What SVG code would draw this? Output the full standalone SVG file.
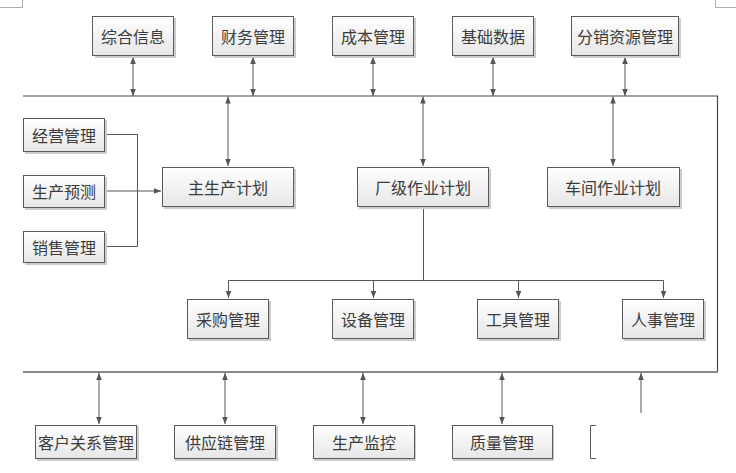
<svg xmlns="http://www.w3.org/2000/svg" width="736" height="473" viewBox="0 0 736 473">
<defs>
<linearGradient id="g" x1="0" y1="0" x2="0" y2="1">
<stop offset="0" stop-color="#ffffff"/>
<stop offset="1" stop-color="#e6e6e6"/>
</linearGradient>
<marker id="ah" viewBox="0 0 8 8" refX="8" refY="4" markerWidth="7" markerHeight="7" markerUnits="userSpaceOnUse" orient="auto-start-reverse">
<path d="M0,0.8 L8,4 L0,7.2 Z" fill="#555"/>
</marker>
<style>
.box{fill:url(#g);stroke:#5a5a5a;stroke-width:1}
.sh{fill:#cccccc}
.t{font-family:"Noto Sans CJK SC","Liberation Sans",sans-serif;font-size:16px;fill:#3c3c3c;text-anchor:middle;dominant-baseline:central}
.c{stroke:#555;stroke-width:1;fill:none}
.cd{stroke:#555;stroke-width:1;fill:none;marker-start:url(#ah);marker-end:url(#ah)}
.ce{stroke:#555;stroke-width:1;fill:none;marker-end:url(#ah)}
.mark{stroke:#b0b0b0;stroke-width:1;fill:none}
</style>
</defs>
<rect width="736" height="473" fill="#ffffff"/>
<path class="mark" d="M0,7.5 H22.5 V0 M736,7.5 H715.5 V0"/>

<g id="connectors">
<path d="M23,96 H717.5 V372" stroke="#444" stroke-width="1.2" fill="none"/>
<path d="M23,372 H718" stroke="#888" stroke-width="2" fill="none"/>
<line class="cd" x1="133" y1="57" x2="133" y2="96"/>
<line class="cd" x1="253" y1="57" x2="253" y2="96"/>
<line class="cd" x1="373" y1="57" x2="373" y2="96"/>
<line class="cd" x1="493" y1="57" x2="493" y2="96"/>
<line class="cd" x1="625" y1="57" x2="625" y2="96"/>
<line class="cd" x1="228" y1="96.5" x2="228" y2="166"/>
<line class="cd" x1="423" y1="96.5" x2="423" y2="166"/>
<line class="cd" x1="613" y1="96.5" x2="613" y2="166"/>
<path class="c" d="M105,134.5 H137.5 V246.5 H105"/>
<line class="ce" x1="105" y1="191" x2="161" y2="191"/>
<path class="c" d="M423.5,207 V280.5"/>
<path class="c" d="M228.5,280.5 H663.5"/>
<line class="ce" x1="228.5" y1="280.5" x2="228.5" y2="298"/>
<line class="ce" x1="373.5" y1="280.5" x2="373.5" y2="298"/>
<line class="ce" x1="518.5" y1="280.5" x2="518.5" y2="298"/>
<line class="ce" x1="663.5" y1="280.5" x2="663.5" y2="298"/>
<line class="cd" x1="99" y1="373" x2="99" y2="424"/>
<line class="cd" x1="225" y1="373" x2="225" y2="424"/>
<line class="cd" x1="363" y1="373" x2="363" y2="424"/>
<line class="cd" x1="502" y1="373" x2="502" y2="424"/>
<line class="ce" x1="641" y1="413" x2="641" y2="373"/>
</g>

<g id="n-zhxx"><rect class="sh" x="95" y="18" width="81" height="40"/><rect class="box" x="92.5" y="16.5" width="81" height="39"/><text class="t" x="133" y="36">综合信息</text></g>
<g id="n-cwgl"><rect class="sh" x="214" y="18" width="82" height="40"/><rect class="box" x="212.5" y="16.5" width="81" height="39"/><text class="t" x="253" y="36">财务管理</text></g>
<g id="n-cbgl"><rect class="sh" x="334" y="18" width="82" height="40"/><rect class="box" x="332.5" y="16.5" width="81" height="39"/><text class="t" x="373" y="36">成本管理</text></g>
<g id="n-jcsj"><rect class="sh" x="454" y="18" width="82" height="40"/><rect class="box" x="452.5" y="16.5" width="81" height="39"/><text class="t" x="493" y="36">基础数据</text></g>
<g id="n-fxzy"><rect class="sh" x="573" y="18" width="108" height="40"/><rect class="box" x="571.5" y="16.5" width="107" height="39"/><text class="t" x="625" y="36">分销资源管理</text></g>

<g id="n-jygl"><rect class="sh" x="25" y="120" width="82" height="34"/><rect class="box" x="23.5" y="118.5" width="81" height="33"/><text class="t" x="64" y="135">经营管理</text></g>
<g id="n-scyc"><rect class="sh" x="25" y="177" width="82" height="33"/><rect class="box" x="23.5" y="175.5" width="81" height="32"/><text class="t" x="64" y="191">生产预测</text></g>
<g id="n-xsgl"><rect class="sh" x="25" y="233" width="82" height="32"/><rect class="box" x="23.5" y="231.5" width="81" height="31"/><text class="t" x="64" y="247">销售管理</text></g>

<g id="n-zscjh"><rect class="sh" x="164" y="169" width="132" height="40"/><rect class="box" x="162.5" y="167.5" width="131" height="39"/><text class="t" x="228" y="187">主生产计划</text></g>
<g id="n-cjzy"><rect class="sh" x="359" y="169" width="132" height="40"/><rect class="box" x="357.5" y="167.5" width="131" height="39"/><text class="t" x="423" y="187">厂级作业计划</text></g>
<g id="n-cjzy2"><rect class="sh" x="549" y="169" width="133" height="40"/><rect class="box" x="547.5" y="167.5" width="132" height="39"/><text class="t" x="613" y="187">车间作业计划</text></g>

<g id="n-cggl"><rect class="sh" x="189" y="301" width="82" height="40"/><rect class="box" x="187.5" y="299.5" width="81" height="39"/><text class="t" x="228" y="319">采购管理</text></g>
<g id="n-sbgl"><rect class="sh" x="334" y="301" width="82" height="40"/><rect class="box" x="332.5" y="299.5" width="81" height="39"/><text class="t" x="373" y="319">设备管理</text></g>
<g id="n-gjgl"><rect class="sh" x="479" y="301" width="82" height="40"/><rect class="box" x="477.5" y="299.5" width="81" height="39"/><text class="t" x="518" y="319">工具管理</text></g>
<g id="n-rsgl"><rect class="sh" x="624" y="301" width="82" height="40"/><rect class="box" x="622.5" y="299.5" width="81" height="39"/><text class="t" x="663" y="319">人事管理</text></g>

<g id="n-khgx"><rect class="sh" x="37" y="426" width="102" height="35"/><rect class="box" x="35.5" y="425.5" width="101" height="33"/><text class="t" x="86" y="442">客户关系管理</text></g>
<g id="n-gylgl"><rect class="sh" x="175" y="426" width="103" height="35"/><rect class="box" x="174.5" y="425.5" width="101" height="33"/><text class="t" x="225" y="442">供应链管理</text></g>
<g id="n-scjk"><rect class="sh" x="314" y="426" width="102" height="35"/><rect class="box" x="313.5" y="425.5" width="101" height="33"/><text class="t" x="364" y="442">生产监控</text></g>
<g id="n-zlgl"><rect class="sh" x="453" y="426" width="101" height="35"/><rect class="box" x="452.5" y="425.5" width="100" height="33"/><text class="t" x="502" y="442">质量管理</text></g>
<g id="n-cut"><path d="M596,425.5 H590.5 V458.5 H596" fill="none" stroke="#5a5a5a" stroke-width="1"/></g>
</svg>
